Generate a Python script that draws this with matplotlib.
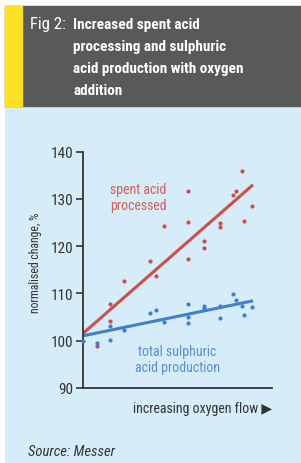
import numpy as np
import matplotlib.pyplot as plt
from matplotlib import font_manager
from matplotlib.patches import Rectangle

# pick a narrow sans if one is installed
names = {f.name for f in font_manager.fontManager.ttflist}
fams = [n for n in ['Liberation Sans Narrow', 'DejaVu Sans Condensed', 'Roboto Condensed',
                    'Liberation Sans'] if n in names] + ['DejaVu Sans']
plt.rcParams['font.family'] = fams

# oxygen flow (arbitrary units) and normalised change, %
spent_x = [1.4, 2.7, 2.7, 4.1, 6.7, 7.3, 8.1, 10.5, 10.5, 10.5, 12.1, 12.1, 13.7, 13.7, 15.0, 15.3, 15.9, 16.1, 16.9]
spent_y = [98.8, 107.7, 104.2, 112.6, 116.9, 113.8, 124.3, 131.7, 125.2, 117.4, 121.0, 119.7, 124.9, 124.0, 130.9, 131.7, 135.9, 125.4, 128.5]

acid_x = [0.0, 1.4, 2.7, 2.7, 4.1, 6.7, 7.3, 8.1, 10.5, 10.5, 10.5, 12.1, 12.1, 13.7, 13.7, 15.0, 15.3, 15.9, 16.1, 16.9]
acid_y = [99.9, 99.6, 103.2, 100.2, 102.3, 105.8, 106.5, 104.0, 107.7, 105.1, 103.7, 107.3, 107.0, 107.4, 104.9, 109.9, 108.7, 107.4, 105.4, 107.2]

trend_x = [0.0, 17.0]
spent_trend = [101.6, 133.0]
acid_trend = [101.05, 108.45]

red = '#cf4d48'
blue = '#3f7fcc'
bg = '#d6edf9'

fig = plt.figure(figsize=(3.01, 4.64), dpi=100)
fig.patch.set_facecolor('white')

# panel background, header and yellow strip
fig.patches.append(Rectangle((5/301, 0), 296/301, 357/464, transform=fig.transFigure, color=bg, zorder=-3))
fig.patches.append(Rectangle((5/301, 357/464), 296/301, 100/464, transform=fig.transFigure, color='#58595b', zorder=-3))
fig.patches.append(Rectangle((5/301, 357/464), 17/301, 100/464, transform=fig.transFigure, color='#fbe122', zorder=-2))

fig.text(30/301, 1 - 25/464, 'Fig 2:', color='white', fontsize=12, va='center', ha='left')
title_lines = ['Increased spent acid', 'processing and sulphuric', 'acid production with oxygen', 'addition']
for i, line in enumerate(title_lines):
    fig.text(73/301, 1 - (25 + 22 * i)/464, line, color='white', fontsize=11,
             fontweight='bold', va='center', ha='left')

ax = fig.add_axes([83.3/301, 75/464, (272 - 83.3)/301, (389 - 152.7)/464])
ax.set_zorder(5)
ax.set_facecolor('none')
ax.set_xlim(0, 18.9)
ax.set_ylim(90, 140)

ax.plot(trend_x, spent_trend, color=red, lw=2.2, solid_capstyle='butt', zorder=2)
ax.plot(trend_x, acid_trend, color=blue, lw=2.2, solid_capstyle='butt', zorder=2)
ax.plot(spent_x, spent_y, 'o', color=red, ms=3, mew=0, zorder=3, clip_on=False)
ax.plot(acid_x, acid_y, 'o', color=blue, ms=3, mew=0, zorder=3, clip_on=False)

ax.spines['top'].set_visible(False)
ax.spines['right'].set_visible(False)
for s in ['left', 'bottom']:
    ax.spines[s].set_color('#333333')
    ax.spines[s].set_linewidth(1.3)
ax.set_yticks([90, 100, 110, 120, 130, 140])
ax.set_xticks([])
ax.tick_params(axis='y', direction='out', length=5, width=1.2, color='#333333',
               labelsize=11, labelcolor='#333333', pad=2)

ax.text(5.5, 130.4, 'spent acid\nprocessed', color='#d0605c', fontsize=10,
        ha='center', va='center', linespacing=1.15)
ax.text(9.4, 96.1, 'total sulphuric\nacid production', color='#5b8fd0', fontsize=10,
        ha='center', va='center', linespacing=1.15)

fig.text(35/301, 1 - 263/464, 'normalised change, %', rotation=90, color='#333333',
         fontsize=8.5, ha='center', va='center')
fig.text(272/301, 1 - 409/464, 'increasing oxygen flow ▶', color='#333333',
         fontsize=10, ha='right', va='center')
fig.text(28/301, 1 - 452/464, 'Source: Messer', color='#333333', fontsize=10.5,
         style='italic', ha='left', va='center')

fig.savefig('out.png', dpi=100, facecolor=fig.get_facecolor())
